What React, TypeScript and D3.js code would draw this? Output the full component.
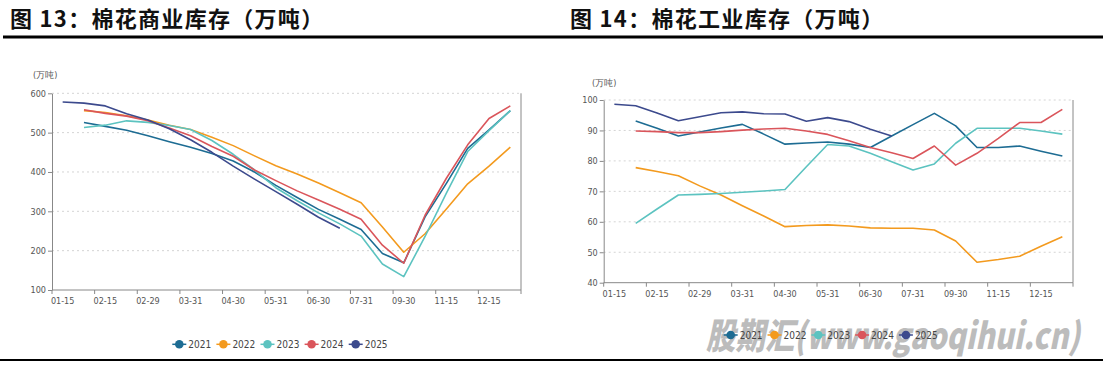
import React, { useEffect, useRef } from "react";
import * as d3 from "d3";

// semi-monthly dates, only every other one is labelled on the axis
const categories = [
  "01-15", "01-31", "02-15", "02-22", "02-29", "03-15", "03-31", "04-15",
  "04-30", "05-15", "05-31", "06-15", "06-30", "07-15", "07-31", "08-31",
  "09-30", "10-31", "11-15", "11-30", "12-15", "12-31",
];
const years = ["2021", "2022", "2023", "2024", "2025"];
const colors = ["#1d6c93", "#f39a1e", "#5cc3c0", "#da555b", "#3c4a8d"];

// 图13 commercial inventory (万吨)
const commercial2021 = [null, 526, 516, 506, 492, 477, 463, 447, 428, 400, 366, 335, 305, 280, 254, 193, 169, 286, 371, 460, 507, 556];
const commercial2022 = [null, 556, 551, 543, 532, 519, 508, 488, 467, 441, 416, 395, 372, 347, 322, 260, 196, 243, 306, 370, 415, 463];
const commercial2023 = [null, 513, 519, 530, 526, 518, 508, 480, 445, 405, 360, 327, 296, 268, 237, 166, 134, 236, 346, 452, 505, 556];
const commercial2024 = [null, 558, 549, 542, 530, 512, 492, 465, 440, 405, 378, 352, 329, 305, 280, 214, 168, 290, 384, 469, 536, 568];
const commercial2025 = [578, 575, 568, 548, 532, 510, 482, 450, 415, 382, 350, 318, 285, 257];
const commercialTicks = [100, 200, 300, 400, 500, 600];

// 图14 industrial inventory (万吨)
const industrial2021 = [null, 93.1, 90.7, 88.2, 89.5, 90.8, 92.0, 88.8, 85.5, 85.9, 86.2, 85.5, 84.4, 88.2, 91.9, 95.6, 91.5, 84.4, 84.4, 84.9, 83.2, 81.6];
const industrial2022 = [null, 77.8, 76.5, 75.1, 71.8, 68.8, 65.3, 61.9, 58.4, 58.8, 59.0, 58.6, 58.0, 57.9, 57.9, 57.3, 53.7, 46.7, 47.6, 48.7, 52.0, 55.1];
const industrial2023 = [null, 59.5, 64.2, 68.8, 69.0, 69.3, 69.7, 70.1, 70.6, 78.1, 85.4, 84.9, 82.5, 79.7, 77.0, 79.0, 85.8, 90.7, 90.7, 90.7, 89.8, 88.8];
const industrial2024 = [null, 89.8, 89.6, 89.3, 89.3, 89.6, 90.1, 90.5, 90.7, 89.8, 88.7, 86.6, 84.4, 82.7, 80.8, 84.9, 78.6, 82.5, 87.4, 92.6, 92.6, 96.9];
const industrial2025 = [98.6, 98.1, 95.7, 93.2, 94.5, 95.8, 96.1, 95.5, 95.4, 93.0, 94.2, 92.9, 90.4, 88.2];
const industrialTicks = [40, 50, 60, 70, 80, 90, 100];

const smallFont = "'Liberation Sans Narrow','DejaVu Sans Condensed',sans-serif";

function drawPanel(svg, o) {
  const x = d3.scaleBand().domain(categories).range([o.left, o.right]);
  const bw = x.bandwidth();
  const y = d3
    .scaleLinear()
    .domain([o.ticks[0], o.ticks[o.ticks.length - 1]])
    .range([o.bottom, o.top]);
  const g = svg.append("g");

  // dashed gridlines
  g.selectAll(".grid")
    .data(o.ticks.slice(1))
    .join("line")
    .attr("x1", o.left)
    .attr("x2", o.right)
    .attr("y1", (d) => y(d))
    .attr("y2", (d) => y(d))
    .attr("stroke", "#d4d4d4")
    .attr("stroke-dasharray", "2,3");

  // y axis
  const ya = g
    .append("g")
    .attr("transform", `translate(${o.left},0)`)
    .call(d3.axisLeft(y).tickValues(o.ticks).tickSize(4).tickSizeOuter(0).tickPadding(2));
  ya.select(".domain").attr("stroke", "#888");
  ya.selectAll("line").attr("stroke", "#888");
  ya.selectAll("text")
    .attr("fill", "#555")
    .style("font-family", smallFont)
    .style("font-size", "9px");

  // right border
  g.append("line")
    .attr("x1", o.right)
    .attr("x2", o.right)
    .attr("y1", o.top)
    .attr("y2", o.bottom)
    .attr("stroke", "#888");

  // x axis
  g.append("line")
    .attr("x1", o.left)
    .attr("x2", o.right)
    .attr("y1", o.bottom)
    .attr("y2", o.bottom)
    .attr("stroke", "#888");
  const labelled = categories.filter((_, i) => i % 2 === 0);
  g.selectAll(".xt")
    .data(labelled.map((c) => x(c)).concat([o.right]))
    .join("line")
    .attr("x1", (d) => d)
    .attr("x2", (d) => d)
    .attr("y1", o.bottom)
    .attr("y2", o.bottom + 4)
    .attr("stroke", "#888");
  g.selectAll(".xl")
    .data(labelled)
    .join("text")
    .attr("x", (d) => x(d) + bw / 2)
    .attr("y", o.bottom + 14)
    .attr("text-anchor", "middle")
    .attr("fill", "#555")
    .style("font-family", smallFont)
    .style("font-size", "9px")
    .text((d) => d);

  // unit
  g.append("text")
    .attr("x", o.unitX)
    .attr("y", o.unitY)
    .attr("fill", "#555")
    .style("font-family", smallFont)
    .style("font-size", "9px")
    .text("(万吨)");

  // lines
  const line = d3
    .line()
    .defined((d) => d != null)
    .x((_, i) => x(categories[i]) + bw / 2)
    .y((d) => y(d));
  o.series.forEach((s, k) => {
    g.append("path")
      .datum(s)
      .attr("fill", "none")
      .attr("stroke", colors[k])
      .attr("stroke-width", 1.6)
      .attr("stroke-linejoin", "round")
      .attr("d", line);
  });
}

function drawLegend(svg, cx, cy, gap) {
  const lg = svg.append("g");
  years.forEach((yr, k) => {
    const mx = cx + k * gap;
    lg.append("line")
      .attr("x1", mx - 7)
      .attr("x2", mx + 7)
      .attr("y1", cy)
      .attr("y2", cy)
      .attr("stroke", colors[k])
      .attr("stroke-width", 1.5);
    lg.append("circle").attr("cx", mx).attr("cy", cy).attr("r", 4.3).attr("fill", colors[k]);
    lg.append("text")
      .attr("x", mx + 9)
      .attr("y", cy + 3.5)
      .attr("fill", "#444")
      .style("font-family", smallFont)
      .style("font-size", "10px")
      .text(yr);
  });
}

const App = () => {
  const svgRef = useRef(null);

  useEffect(() => {
    const svg = d3.select(svgRef.current);
    svg.selectAll("*").remove();

    // titles
    const titles = [
      { x: 10, t: "图 13：棉花商业库存（万吨）" },
      { x: 570, t: "图 14：棉花工业库存（万吨）" },
    ];
    titles.forEach((d) => {
      svg.append("text")
        .attr("x", d.x)
        .attr("y", 27)
        .style("font-family", "'Noto Sans CJK SC',sans-serif")
        .style("font-size", "22px")
        .style("font-weight", "700")
        .style("letter-spacing", "1.3px")
        .attr("fill", "#111")
        .text(d.t);
    });
    svg.append("line")
      .attr("x1", 3).attr("x2", 1103).attr("y1", 37).attr("y2", 37)
      .attr("stroke", "#000").attr("stroke-width", 2.8);
    svg.append("line")
      .attr("x1", 0).attr("x2", 1103).attr("y1", 360).attr("y2", 360)
      .attr("stroke", "#000").attr("stroke-width", 2);

    drawPanel(svg, {
      left: 52, right: 521, top: 93.3, bottom: 290,
      ticks: commercialTicks,
      series: [commercial2021, commercial2022, commercial2023, commercial2024, commercial2025],
      unitX: 33, unitY: 78,
    });
    drawPanel(svg, {
      left: 603.7, right: 1073, top: 100, bottom: 282.7,
      ticks: industrialTicks,
      series: [industrial2021, industrial2022, industrial2023, industrial2024, industrial2025],
      unitX: 592, unitY: 86,
    });

    // watermark (sits under the right legend, as in the source)
    svg.append("text")
      .attr("x", 706)
      .attr("y", 349)
      .attr("textLength", 374)
      .attr("lengthAdjust", "spacingAndGlyphs")
      .attr("fill", "#bcbcbc")
      .style("font-family", "'Noto Sans CJK SC',sans-serif")
      .style("font-size", "36px")
      .style("font-weight", "900")
      .style("font-style", "italic")
      .text("股期汇(www.gaoqihui.cn)");

    drawLegend(svg, 179.3, 344.3, 44.1);
    drawLegend(svg, 730.7, 335, 43.8);
  }, []);

  return (
    <svg
      ref={svgRef}
      width={1103}
      height={366}
      style={{ position: "absolute", left: 0, top: 0, background: "#fff" }}
    />
  );
};

export default App;
